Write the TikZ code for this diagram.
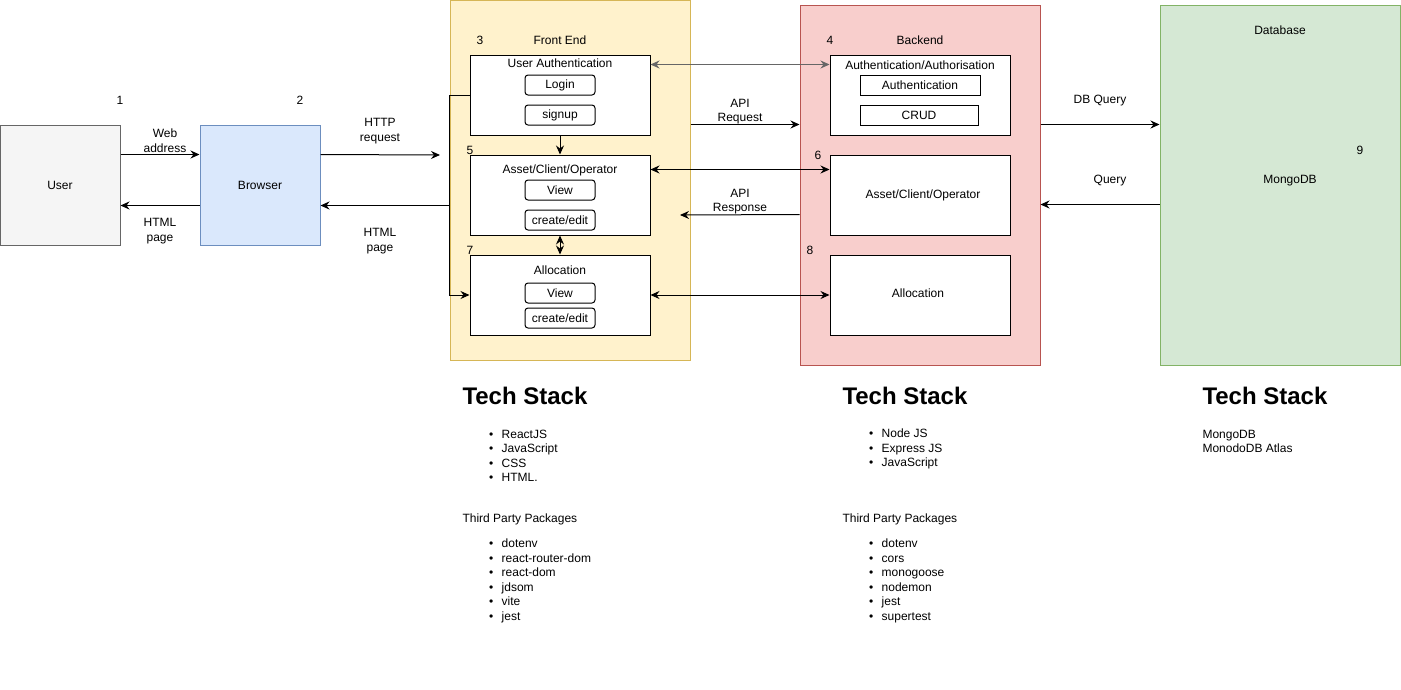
\documentclass[tikz,border=0pt]{standalone}
\usepackage{fontspec}
\setmainfont{Liberation Sans}
\usetikzlibrary{arrows.meta}

\definecolor{userfill}{HTML}{F5F5F5}
\definecolor{userline}{HTML}{666666}
\definecolor{brwfill}{HTML}{DAE8FC}
\definecolor{brwline}{HTML}{6C8EBF}
\definecolor{fefill}{HTML}{FFF2CC}
\definecolor{feline}{HTML}{D6B656}
\definecolor{befill}{HTML}{F8CECC}
\definecolor{beline}{HTML}{B85450}
\definecolor{dbfill}{HTML}{D5E8D4}
\definecolor{dbline}{HTML}{82B366}

\newcommand{\stackitem}[1]{\textbullet\hspace{8.5pt}#1}

\begin{document}
\begin{tikzpicture}[x=1pt, y=-1pt, line width=1pt, font=\fontsize{12}{14.5}\selectfont,
  arr/.style={-{Stealth[length=9pt,width=8pt,inset=3pt]}},
  darr/.style={{Stealth[length=9pt,width=8pt,inset=3pt]}-{Stealth[length=9pt,width=8pt,inset=3pt]}},
  panel/.style={draw, minimum width=240pt, minimum height=360pt},
  module/.style={draw, fill=white, minimum width=180pt, minimum height=80pt},
  btn/.style={draw, rounded corners=3pt, fill=white, minimum width=70pt, minimum height=20pt, inner sep=0pt},
  sqbtn/.style={draw, fill=white, minimum height=20pt, inner sep=0pt},
  heading/.style={anchor=west, inner sep=0pt, font=\fontsize{24}{28}\selectfont\bfseries},
  listtext/.style={anchor=west, align=left, inner sep=0pt}]

\useasboundingbox (0,0) rectangle (1401,689);

% containers
\node[panel, fill=fefill, draw=feline] (fe) at (570,180) {};
\node[panel, fill=befill, draw=beline] (be) at (920,185) {};
\node[panel, fill=dbfill, draw=dbline] (db) at (1280,185) {};

\node[draw=userline, fill=userfill, minimum width=120pt, minimum height=120pt] (user) at (60,185) {User};
\node[draw=brwline, fill=brwfill, minimum width=120pt, minimum height=120pt] (browser) at (260,185) {Browser};

\node (n1) at (120,100) {1};
\node (n2) at (300,100) {2};
\node (n3) at (480,40) {3};
\node (n4) at (830,40) {4};
\node (n5) at (470,150) {5};
\node (n6) at (818,155) {6};
\node (n7) at (470,250) {7};
\node (n8) at (810,250) {8};
\node (n9) at (1360,150) {9};

\node (fetitle) at (560,40) {Front End};
\node (betitle) at (920,40) {Backend};
\node (dbtitle) at (1280,30) {Database};
\node (mongo) at (1290,181) {MongoDB};

% front end modules
\node[module] (ua) at (560,95) {};
\node (uatitle) at (560,63) {User Authentication};
\node[btn] (login) at (560,85) {Login};
\node[btn] (signup) at (560,115) {signup};

\node[module] (asset) at (560,195) {};
\node (assettitle) at (560,170) {Asset/Client/Operator};
\node[btn] (assetview) at (560,190) {View};
\node[btn] (assetedit) at (560,220) {create/edit};

\node[module] (alloc) at (560,295) {};
\node (alloctitle) at (560,270) {Allocation};
\node[btn] (allocview) at (560,293) {View};
\node[btn] (allocedit) at (560,318) {create/edit};

% backend modules
\node[module] (beauth) at (920,95) {};
\node (beauthtitle) at (920,65) {Authentication/Authorisation};
\node[sqbtn, minimum width=120pt] (authn) at (920,85) {Authentication};
\node[sqbtn, minimum width=118pt] (crud) at (919,115) {CRUD};

\node[module] (beasset) at (920,195) {};
\node (beassettitle) at (923,195) {Asset/Client/Operator};
\node[module] (bealloc) at (920,295) {};
\node (beallictitle) at (918,293) {Allocation};

% connectors
\coordinate (httpend) at (440,155);
\coordinate (respend) at (680,215);
\coordinate (htmlin) at ([yshift=40pt]browser.south east);

\draw[arr] ([yshift=-30pt]user.north east) -- ([yshift=-30pt]browser.north west);
\draw[arr] ([yshift=40pt]browser.south west) -- ([yshift=40pt]user.south east);
\draw[arr] ([yshift=-30pt]browser.north east) -- (httpend);
\draw[arr] (fe.west |- htmlin) -- (htmlin);
\draw[arr] (ua.west) -- (fe.west |- ua.west) -- (fe.west |- alloc.west) -- (alloc.west);

\draw[arr] (ua.south) -- (asset.north);
\draw[darr] (asset.south) -- (alloc.north);

\draw[darr, draw=userline] ([yshift=-10pt]ua.north east) -- ([yshift=-10pt]beauth.north west);
\draw[darr] ([yshift=-15pt]asset.north east) -- ([yshift=-15pt]beasset.north west);
\draw[darr] (alloc.east) -- (bealloc.west);

\draw[arr] ([yshift=-125pt]fe.north east) -- ([yshift=-120pt]be.north west);
\draw[arr] ([yshift=-210pt]be.north west) -- (respend);
\draw[arr] ([yshift=-120pt]be.north east) -- ([yshift=-120pt]db.north west);
\draw[arr] ([yshift=-200pt]db.north west) -- ([yshift=-200pt]be.north east);

% connector labels
\node[align=center] (webaddr) at (165,140.5) {Web\\address};
\node[align=center] (htmlpage1) at (160,231) {HTML\\page};
\node[align=center] (httpreq) at (380,131) {HTTP\\request};
\node[align=center] (htmlpage2) at (380,241) {HTML\\page};
\node[align=center] (apireq) at (740,111.5) {API\\Request};
\node[align=center] (apiresp) at (740,201.5) {API\\Response};
\node (dbquery) at (1100,101) {DB Query};
\node (query) at (1110,181) {Query};

% tech stacks
\node[heading] (festack) at (462,395.5) {Tech Stack};
\node[listtext] (felist) at (488.5,456) {\stackitem{ReactJS}\\\stackitem{JavaScript}\\\stackitem{CSS}\\\stackitem{HTML.}};
\node[listtext] (fethird) at (462,519) {Third Party Packages};
\node[listtext] (fepkgs) at (488.5,581) {\stackitem{dotenv}\\\stackitem{react-router-dom}\\\stackitem{react-dom}\\\stackitem{jdsom}\\\stackitem{vite}\\\stackitem{jest}};

\node[heading] (bestack) at (842,395.5) {Tech Stack};
\node[listtext] (belist) at (868.5,449) {\stackitem{Node JS}\\\stackitem{Express JS}\\\stackitem{JavaScript}};
\node[listtext] (bethird) at (842,519) {Third Party Packages};
\node[listtext] (bepkgs) at (868.5,581) {\stackitem{dotenv}\\\stackitem{cors}\\\stackitem{monogoose}\\\stackitem{nodemon}\\\stackitem{jest}\\\stackitem{supertest}};

\node[heading] (dbstack) at (1202,395.5) {Tech Stack};
\node[listtext] (dblist) at (1202,441.5) {MongoDB\\MonodoDB Atlas};
\end{tikzpicture}
\end{document}
